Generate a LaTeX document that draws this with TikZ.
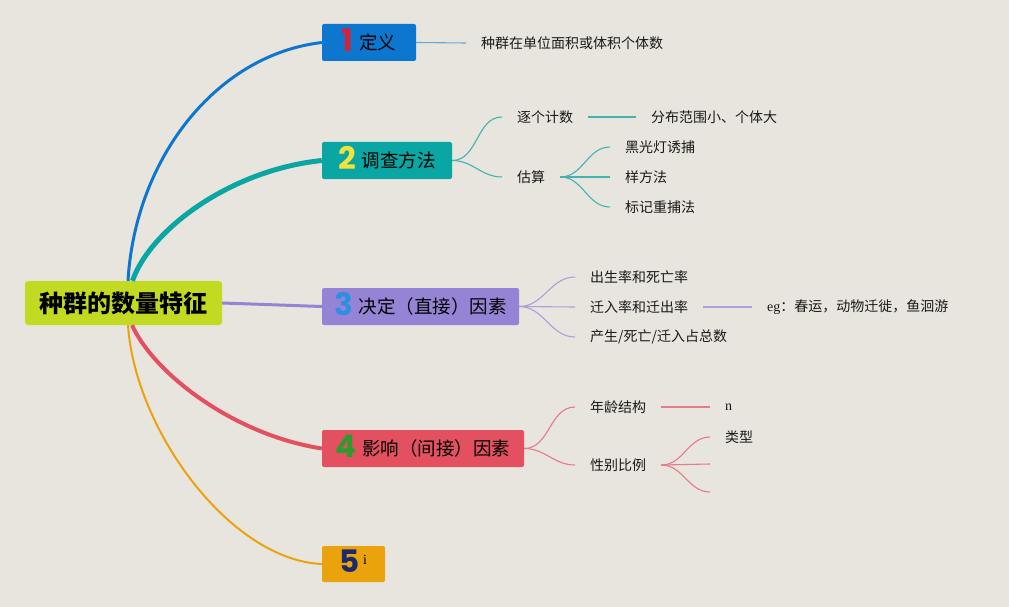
\documentclass[tikz,border=0pt]{standalone}
\usepackage{fontspec}
\setmainfont{Noto Sans CJK SC}
\newfontfamily\lat{Liberation Serif}
\newfontfamily\digf{Poppins}
\definecolor{bg}{HTML}{E8E5DE}
\definecolor{croot}{HTML}{C2DA21}
\definecolor{c1}{HTML}{0D77D0}
\definecolor{c2}{HTML}{0AA6A3}
\definecolor{c3}{HTML}{9584D6}
\definecolor{c4}{HTML}{E3505F}
\definecolor{c5}{HTML}{EBA30D}
\definecolor{t1}{HTML}{6AA6DA}
\definecolor{t2}{HTML}{43B3AF}
\definecolor{t3}{HTML}{ACA0DC}
\definecolor{t4}{HTML}{E57A88}
\definecolor{d1}{HTML}{D42336}
\definecolor{d2}{HTML}{F4E23C}
\definecolor{d3}{HTML}{2D8FE0}
\definecolor{d4}{HTML}{2E9B2E}
\definecolor{d5}{HTML}{1B2A6B}
\newcommand{\dg}[2]{\raisebox{-2pt}{\smash{\digf\bfseries\fontsize{31}{31}\selectfont\color{#1}#2}}}
\tikzset{
  box/.style={rounded corners=2pt, minimum height=37pt, inner sep=0pt, text=black,
    font=\fontsize{18.5}{21}\selectfont},
  leaf/.style={anchor=west, inner xsep=15pt, inner ysep=2pt, text=black!90,
    font=\fontsize{14}{16}\selectfont},
  thin/.style={line width=1.1pt},
}
\begin{document}
\begin{tikzpicture}[x=1pt,y=-1pt]
\fill[bg] (0,0) rectangle (1009,607);
\useasboundingbox (0,0) rectangle (1009,607);

% root and main boxes
\node[fill=croot, rounded corners=3pt, minimum width=197pt, minimum height=44pt, inner sep=0pt,
  font=\bfseries\fontsize{24}{26}\selectfont] (root) at (123.5,303) {种群的数量特征};
\node[box, fill=c1, minimum width=94pt]  (b1) at (369,42.5)  {\dg{d1}{1}\hspace{6pt}定义};
\node[box, fill=c2, minimum width=130pt] (b2) at (387,160.5) {\dg{d2}{2}\hspace{6pt}调查方法};
\node[box, fill=c3, minimum width=197pt] (b3) at (420.5,306.5) {\dg{d3}{3}\hspace{6pt}决定（直接）因素};
\node[box, fill=c4, minimum width=202pt] (b4) at (423,448.5) {\dg{d4}{4}\hspace{6pt}影响（间接）因素};
\node[box, fill=c5, minimum width=63pt, minimum height=36pt, font=\fontsize{14}{16}\selectfont] (b5) at (353.5,564)
  {\dg{d5}{5}\hspace{3pt}\raisebox{6pt}{\lat i}};

% main connectors
\draw[c1, line width=3pt] ([xshift=4.5pt]root.north) .. controls (135,160) and (215,55) .. (b1.west);
\draw[c2, line width=5pt] ([xshift=9pt]root.north) .. controls (150,230) and (230,170) .. (b2.west);
\draw[c3, line width=3pt] (root.east) -- (b3.west);
\draw[c4, line width=4pt] ([xshift=8.5pt]root.south) .. controls (155,375) and (235,435) .. (b4.west);
\draw[c5, line width=2pt] ([xshift=4.5pt]root.south) .. controls (135,430) and (230,560) .. (b5.west);

% branch 1
\node[leaf] (n11) at (466,43) {种群在单位面积或体积个体数};
\draw[t1, thin] (b1.east) -- (n11.west);

% branch 2
\node[leaf] (n21) at (502,117) {逐个计数};
\node[leaf] (n22) at (502,177) {估算};
\node[leaf] (n211) at (636,117) {分布范围小、个体大};
\node[leaf] (n221) at (610,147) {黑光灯诱捕};
\node[leaf] (n222) at (610,177) {样方法};
\node[leaf] (n223) at (610,207) {标记重捕法};
\draw[t2, thin] (b2.east) to[out=0,in=180] (n21.west);
\draw[t2, thin] (b2.east) to[out=0,in=180] (n22.west);
\draw[t2, thin] (n21.east) -- (n211.west);
\draw[t2, thin] (n22.east) to[out=0,in=180] (n221.west);
\draw[t2, thin] (n22.east) -- (n222.west);
\draw[t2, thin] (n22.east) to[out=0,in=180] (n223.west);

% branch 3
\node[leaf] (n31) at (575,277) {出生率和死亡率};
\node[leaf] (n32) at (575,307) {迁入率和迁出率};
\node[leaf] (n33) at (575,337) {产生/死亡/迁入占总数};
\node[leaf] (n321) at (752,307) {{\lat eg}：春运，动物迁徙，鱼洄游};
\draw[t3, thin] (b3.east) to[out=0,in=180] (n31.west);
\draw[t3, thin] (b3.east) -- (n32.west);
\draw[t3, thin] (b3.east) to[out=0,in=180] (n33.west);
\draw[t3, thin] (n32.east) -- (n321.west);

% branch 4
\node[leaf] (n41) at (575,407) {年龄结构};
\node[leaf] (n42) at (575,465) {性别比例};
\node[leaf] (n411) at (710,407) {\lat n};
\node[leaf] (n421) at (710,437) {类型};
\coordinate (c422) at (710,464);
\coordinate (c423) at (710,492);
\draw[t4, thin] (b4.east) to[out=0,in=180] (n41.west);
\draw[t4, thin] (b4.east) to[out=0,in=180] (n42.west);
\draw[t4, thin] (n41.east) -- (n411.west);
\draw[t4, thin] (n42.east) to[out=0,in=180] (n421.west);
\draw[t4, thin] (n42.east) -- (c422);
\draw[t4, thin] (n42.east) to[out=0,in=180] (c423);
\end{tikzpicture}
\end{document}
